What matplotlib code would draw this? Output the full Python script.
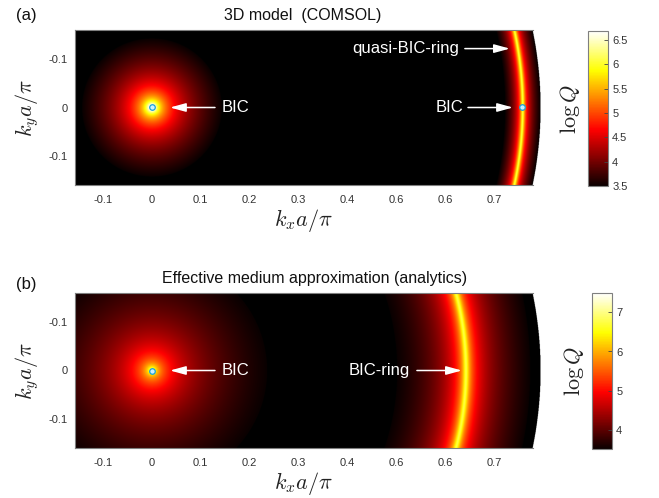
import numpy as np
import matplotlib
matplotlib.use('Agg')
import matplotlib.pyplot as plt

plt.rcParams['font.family'] = ['Liberation Sans', 'DejaVu Sans']
plt.rcParams['mathtext.fontset'] = 'cm'

# ---------------- data ----------------
x_ticks = [-0.1, 0.0, 0.1, 0.2, 0.3, 0.4, 0.5, 0.6, 0.7]
x_tick_labels = ['-0.1', '0', '0.1', '0.2', '0.3', '0.4', '0.6', '0.6', '0.7']
y_ticks = [-0.1, 0.0, 0.1]
y_tick_labels = ['-0.1', '0', '-0.1']

kx_range = [-0.157, 0.78]      # axes limits
ky_range = [-0.16, 0.16]
k_max = 0.795                  # radius of computed disk

titles = ['3D model  (COMSOL)', 'Effective medium approximation (analytics)']
title_x = [0.498, 0.522]
panel_labels = ['(a)', '(b)']

# log Q model parameters
center_log_amp = [1.47, 2.2]    # log10(Q * k^p) around Gamma point
center_power = [2.4, 2.0]
center_core = [0.003, 0.003]
ring_radius = [0.758, 0.642]
ring_amp = [4.0, 50.0]          # Q * dk^2 around the ring
ring_core = [0.0018, 0.003]

cbar_limits = [(3.5, 6.68), (3.5, 7.5)]
cbar_ticks = [[3.5, 4, 4.5, 5, 5.5, 6, 6.5], [4, 5, 6, 7]]
cbar_tick_labels = [['3.5', '4', '4.5', '5', '5.5', '6', '6.5'], ['4', '5', '6', '7']]

bic_points = [[(0.0, 0.0), (0.758, 0.0)], [(0.0, 0.0)]]

# ---------------- figure ----------------
W, H = 659, 498
fig = plt.figure(figsize=(W / 100, H / 100), dpi=100)


def rect(left, top, right, bottom):
    return [left / W, 1 - bottom / H, (right - left) / W, (bottom - top) / H]


ax_rects = [rect(75, 30, 533, 185), rect(75, 293, 533, 448)]
cb_rects = [rect(588, 31, 608, 186), rect(592, 293, 612, 449)]
label_tops = [8, 277]

kx = np.linspace(kx_range[0], k_max, 1500)
ky = np.linspace(ky_range[0], ky_range[1], 500)
KX, KY = np.meshgrid(kx, ky)
R = np.hypot(KX, KY)

gray = '#7f7f7f'
tick_col = '#333333'

for i in range(2):
    q = (10 ** center_log_amp[i] / (R ** 2 + center_core[i] ** 2) ** (center_power[i] / 2)
         + ring_amp[i] / ((R - ring_radius[i]) ** 2 + ring_core[i] ** 2))
    L = np.log10(q)
    L[R > k_max] = np.nan

    ax = fig.add_axes(ax_rects[i])
    cmap = plt.get_cmap('hot').copy()
    cmap.set_bad((1, 1, 1, 0))
    cmap.set_under('black')
    im = ax.imshow(L, extent=[kx_range[0], k_max, ky_range[0], ky_range[1]],
                   origin='lower', aspect='auto', cmap=cmap,
                   vmin=cbar_limits[i][0], vmax=cbar_limits[i][1],
                   interpolation='bilinear')
    im.set_clip_on(False)
    ax.set_xlim(kx_range)
    ax.set_ylim(ky_range[1], ky_range[0])

    for s in ['top', 'bottom', 'left']:
        ax.spines[s].set_color(gray)
        ax.spines[s].set_linewidth(0.8)
    ax.spines['right'].set_visible(False)

    ax.set_xticks(x_ticks)
    ax.set_xticklabels(x_tick_labels)
    ax.set_yticks(y_ticks)
    ax.set_yticklabels(y_tick_labels)
    ax.tick_params(axis='both', length=0, labelsize=8, labelcolor=tick_col)
    ax.tick_params(axis='x', pad=7)
    ax.tick_params(axis='y', pad=5)

    ax.set_xlabel(r'$k_x a/\pi$', fontsize=16, color='#222222')
    ax.xaxis.set_label_coords(0.5, -0.14)
    ax.set_ylabel(r'$k_y a/\pi$', fontsize=16, color='#222222')
    ax.yaxis.set_label_coords(-0.075, 0.5)

    ax.set_title(titles[i], fontsize=11.5, pad=7, color='#111111', x=title_x[i])
    fig.text(16 / W, 1 - label_tops[i] / H, panel_labels[i], fontsize=12,
             va='top', ha='left', color='#111111')

    for (bx, by) in bic_points[i]:
        ax.plot(bx, by, 'o', ms=4, mfc='#c8f0ff', mec='#1aa0d8', mew=0.9,
                clip_on=False, zorder=5)

    arrow_kw = dict(arrowstyle='-|>,head_length=0.95,head_width=0.26',
                    color='white', lw=1.1, mutation_scale=10,
                    shrinkA=0, shrinkB=0)

    # BIC at Gamma
    ax.annotate('', xy=(0.0374, 0.0), xytext=(0.1294, 0.0), arrowprops=arrow_kw)
    ax.text(0.1438, 0.0, 'BIC', color='white', fontsize=12, va='center', ha='left')

    if i == 0:
        ax.annotate('', xy=(0.7326, -0.1216), xytext=(0.6406, -0.1216), arrowprops=arrow_kw)
        ax.text(0.628, -0.1216, 'quasi-BIC-ring', color='white', fontsize=12,
                va='center', ha='right')
        ax.annotate('', xy=(0.739, 0.0), xytext=(0.647, 0.0), arrowprops=arrow_kw)
        ax.text(0.637, 0.0, 'BIC', color='white', fontsize=12, va='center', ha='right')
    else:
        ax.annotate('', xy=(0.6345, 0.0), xytext=(0.5425, 0.0), arrowprops=arrow_kw)
        ax.text(0.528, 0.0, 'BIC-ring', color='white', fontsize=12, va='center', ha='right')

    cax = fig.add_axes(cb_rects[i])
    cb = fig.colorbar(im, cax=cax)
    cb.set_ticks(cbar_ticks[i])
    cb.set_ticklabels(cbar_tick_labels[i])
    cb.outline.set_edgecolor(gray)
    cb.outline.set_linewidth(0.8)
    cax.tick_params(direction='in', length=3, width=0.6, color='#444444',
                    labelsize=8, labelcolor=tick_col, pad=3)
    cax.yaxis.set_label_position('left')
    cax.set_ylabel(r'$\log Q$', fontsize=16, color='#222222')
    cax.yaxis.set_label_coords(-0.3, 0.5)

fig.savefig('out.png', dpi=100)
